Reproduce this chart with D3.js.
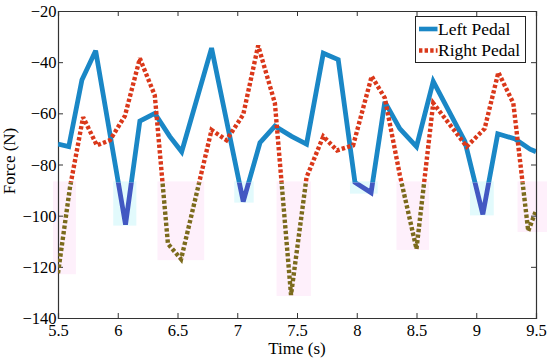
<!DOCTYPE html>
<html>
<head>
<meta charset="utf-8">
<script src="https://cdn.jsdelivr.net/npm/d3@7"></script>
<style>
  html, body { margin: 0; padding: 0; background: #fff; }
  svg { display: block; }
  svg text { font-family: "Liberation Serif", "Times New Roman", "DejaVu Serif", serif !important; fill: #000; }
</style>
</head>
<body>
<svg id="chart" width="550" height="361"></svg>
<script>
// ---- data ----
const leftTime = [5.5, 5.59, 5.70, 5.815, 6.065, 6.185, 6.31, 6.435, 6.535, 6.785, 7.05, 7.19, 7.315, 7.455, 7.58, 7.72, 7.845, 7.985, 8.12, 8.235, 8.36, 8.50, 8.64, 8.905, 9.055, 9.18, 9.325, 9.45, 9.5];
const leftForce = [-72, -73, -47, -35.5, -103.5, -63, -60, -69, -75, -34.5, -94.5, -71.5, -65, -69, -72, -36.5, -39, -87, -91, -55.5, -66, -73, -47.5, -71, -99.5, -68, -70, -74, -75];

const rightTime = [5.5, 5.6, 5.71, 5.825, 5.935, 6.06, 6.185, 6.31, 6.42, 6.53, 6.785, 6.91, 7.05, 7.175, 7.315, 7.45, 7.58, 7.72, 7.835, 7.97, 8.125, 8.235, 8.36, 8.50, 8.64, 8.92, 9.07, 9.185, 9.31, 9.435, 9.5];
const rightForce = [-122.5, -89, -61.5, -72.5, -70.5, -61, -38.5, -53, -111, -117, -66.5, -70.5, -60.5, -33.5, -56, -131, -85, -69, -74.5, -72.5, -45.5, -54, -84, -113, -56, -73, -66, -44, -56, -106, -98];

const xTicks = [5.5, 6, 6.5, 7, 7.5, 8, 8.5, 9, 9.5];
const yTicks = [-20, -40, -60, -80, -100, -120, -140];
const seriesNames = ["Left Pedal", "Right Pedal"];
const xLabel = "Time (s)";
const yLabel = "Force (N)";
const highlightLevel = -87;

// ---- layout ----
const FONT = '"Liberation Serif", "Times New Roman", "DejaVu Serif", serif';
const svg = d3.select("#chart");
const L = 58, R = 536, T = 11, B = 318;
const x = d3.scaleLinear().domain([5.5, 9.5]).range([L, R]);
const y = d3.scaleLinear().domain([-140, -20]).range([B, T]);

const blue = "#1a87c6", blueDark = "#4258c2";
const red = "#da381a", redDark = "#7b6a1c";

const left = leftTime.map((t, i) => ({t, f: leftForce[i]}));
const right = rightTime.map((t, i) => ({t, f: rightForce[i]}));

const defs = svg.append("defs");
defs.append("clipPath").attr("id", "upper").append("rect")
  .attr("x", L).attr("y", T).attr("width", R - L).attr("height", y(highlightLevel) - T);
defs.append("clipPath").attr("id", "lower").append("rect")
  .attr("x", L).attr("y", y(highlightLevel)).attr("width", R - L).attr("height", B - y(highlightLevel));

// faint highlight boxes behind dips below the level
function dips(data) {
  const out = [];
  let cur = null;
  for (let i = 0; i < data.length; i++) {
    const d = data[i];
    if (d.f < highlightLevel) {
      if (!cur) {
        let xs = x(d.t);
        if (i > 0) {
          const p = data[i - 1];
          xs = x(p.t + (highlightLevel - p.f) / (d.f - p.f) * (d.t - p.t));
        }
        cur = {x0: xs, min: d.f};
      }
      cur.min = Math.min(cur.min, d.f);
      const n = data[i + 1];
      if (!n || n.f >= highlightLevel) {
        cur.x1 = n ? x(d.t + (highlightLevel - d.f) / (n.f - d.f) * (n.t - d.t)) : x(d.t) + 6;
        out.push(cur);
        cur = null;
      }
    }
  }
  return out;
}
const gh = svg.append("g");
function drawBoxes(data, col) {
  gh.selectAll(null).data(dips(data)).enter().append("rect")
    .attr("x", d => d.x0 - 5).attr("width", d => d.x1 - d.x0 + 10)
    .attr("y", y(highlightLevel) - 1)
    .attr("height", d => y(d.min) - y(highlightLevel) + 2)
    .attr("fill", col);
}
drawBoxes(left, "#e2fafc");
drawBoxes(right, "#fef0fb");

// axes box with inward ticks
const axisCol = "#333";
const gx = svg.append("g").attr("transform", `translate(0,${B})`)
  .call(d3.axisBottom(x).tickValues(xTicks).tickSize(-5).tickPadding(6).tickFormat(d3.format("")));
const gxt = svg.append("g").attr("transform", `translate(0,${T})`)
  .call(d3.axisTop(x).tickValues(xTicks).tickSize(-5).tickFormat(""));
const gy = svg.append("g").attr("transform", `translate(${L},0)`)
  .call(d3.axisLeft(y).tickValues(yTicks).tickSize(-5).tickPadding(2).tickFormat(d3.format("")));
const gyr = svg.append("g").attr("transform", `translate(${R},0)`)
  .call(d3.axisRight(y).tickValues(yTicks).tickSize(-5).tickFormat(""));
[gx, gxt, gy, gyr].forEach(g => {
  g.attr("font-family", FONT).attr("font-size", 16.5);
  g.select(".domain").attr("stroke", axisCol).attr("stroke-width", 1.2);
  g.selectAll(".tick line").attr("stroke", axisCol);
});
gx.selectAll("text").style("font-family", FONT).style("font-size", "16.5px").attr("fill", "#000").attr("dy", "0.71em").attr("y", 6.5);
gy.selectAll("text").style("font-family", FONT).style("font-size", "16.5px").attr("fill", "#000").attr("dy", "0.34em").attr("x", -1.5);

// lines
const line = d3.line().x(d => x(d.t)).y(d => y(d.f));
function drawSeries(data, c, cDark, dash) {
  [["upper", c], ["lower", cDark]].forEach(([clip, col]) => {
    svg.append("g").attr("clip-path", `url(#${clip})`)
      .append("path").datum(data).attr("d", line)
      .attr("fill", "none").attr("stroke", col).attr("stroke-width", dash ? 4.4 : 4.8)
      .attr("stroke-linejoin", "miter").attr("stroke-miterlimit", 3)
      .attr("stroke-dasharray", dash || null);
  });
}
drawSeries(left, blue, blueDark, null);
drawSeries(right, red, redDark, "3.4,2.2");

// legend
const lg = svg.append("g");
lg.append("rect").attr("x", 415.5).attr("y", 16.5).attr("width", 110).attr("height", 46)
  .attr("fill", "#fff").attr("stroke", "#222").attr("stroke-width", 1);
const legendItems = [
  {name: seriesNames[0], col: blue, dash: null, yy: 29},
  {name: seriesNames[1], col: red, dash: "3.4,2.2", yy: 50.5}
];
legendItems.forEach(it => {
  lg.append("line").attr("x1", 419).attr("x2", 437.5).attr("y1", it.yy).attr("y2", it.yy)
    .attr("stroke", it.col).attr("stroke-width", 4.6).attr("stroke-dasharray", it.dash);
  lg.append("text").attr("x", 438).attr("y", it.yy + 5.5)
    .style("font-family", FONT).style("font-size", "17.5px").text(it.name);
});

// axis labels
svg.append("text").attr("x", 297).attr("y", 354).attr("text-anchor", "middle")
  .style("font-family", FONT).style("font-size", "17px").text(xLabel);
svg.append("text").attr("transform", "translate(15,161) rotate(-90)").attr("text-anchor", "middle")
  .style("font-family", FONT).style("font-size", "17px").text(yLabel);
</script>
</body>
</html>
